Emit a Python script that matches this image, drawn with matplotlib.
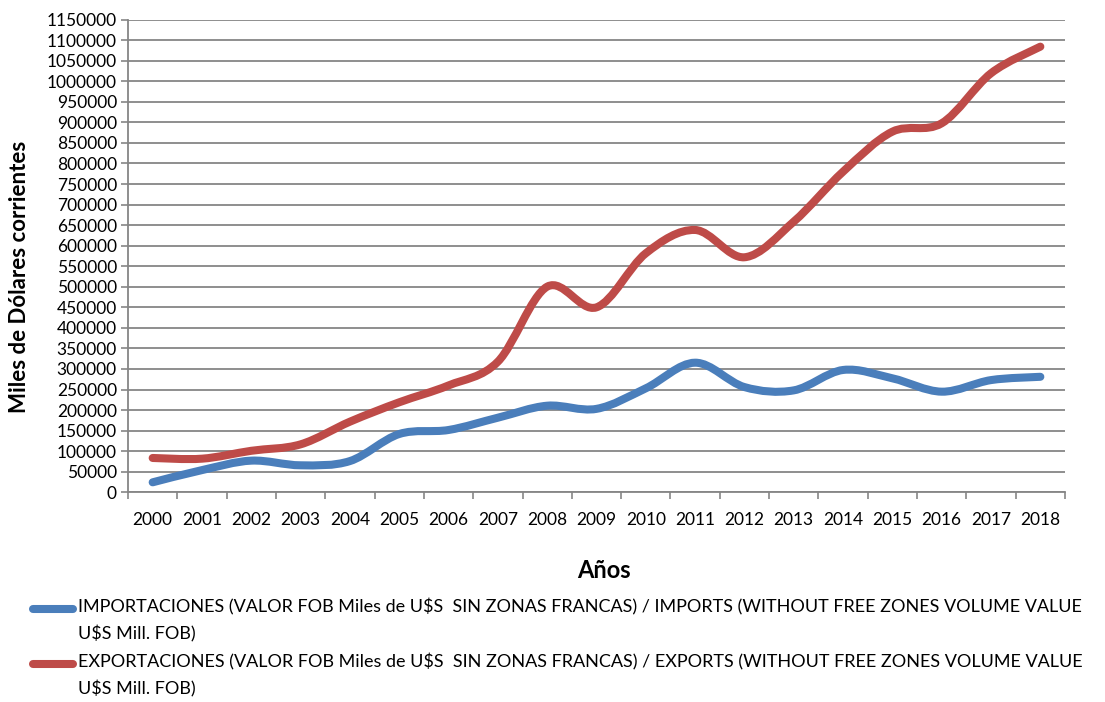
import matplotlib
matplotlib.use("Agg")
import matplotlib.pyplot as plt
import numpy as np
from matplotlib.path import Path
from matplotlib.patches import PathPatch
from matplotlib.lines import Line2D

years = [str(y) for y in range(2000, 2019)]
imports = [24300, 54000, 77000, 65700, 76000, 141800, 151600, 181500, 210700, 203000,
           253000, 315300, 256000, 248000, 297600, 277300, 244800, 273000, 281000]
exports = [83500, 81800, 101000, 116700, 171800, 219000, 260000, 317800, 500300, 450000,
           581500, 638200, 571800, 658500, 780100, 877400, 897800, 1019500, 1084200]
import_label = "IMPORTACIONES (VALOR FOB Miles de U$S  SIN ZONAS FRANCAS) / IMPORTS (WITHOUT FREE ZONES VOLUME VALUE\nU$S Mill. FOB)"
export_label = "EXPORTACIONES (VALOR FOB Miles de U$S  SIN ZONAS FRANCAS) / EXPORTS (WITHOUT FREE ZONES VOLUME VALUE\nU$S Mill. FOB)"

BLUE = "#4A7EBB"
RED = "#BE4B48"
GRID = "#868686"
FONT = "Lato"

plt.rcParams['font.family'] = [FONT, 'DejaVu Sans']

fig = plt.figure(figsize=(11.05, 7.02), dpi=100)
W, H = 1105, 702
ax = fig.add_axes([128 / W, 1 - 492.3 / H, (1065 - 128) / W, (492.3 - 19.6) / H])


def smooth_path(xs, ys):
    xs = np.asarray(xs, float)
    ys = np.asarray(ys, float)
    n = len(xs)
    verts = [(xs[0], ys[0])]
    codes = [Path.MOVETO]
    for i in range(n - 1):
        p0 = np.array([xs[max(i - 1, 0)], ys[max(i - 1, 0)]])
        p1 = np.array([xs[i], ys[i]])
        p2 = np.array([xs[i + 1], ys[i + 1]])
        p3 = np.array([xs[min(i + 2, n - 1)], ys[min(i + 2, n - 1)]])
        c1 = p1 + (p2 - p0) / 6.0
        c2 = p2 - (p3 - p1) / 6.0
        verts += [tuple(c1), tuple(c2), tuple(p2)]
        codes += [Path.CURVE4] * 3
    return Path(verts, codes)


xpos = np.arange(len(years))
for vals, col in [(imports, BLUE), (exports, RED)]:
    patch = PathPatch(smooth_path(xpos, vals), facecolor="none", edgecolor=col,
                      lw=5.8, capstyle="round", joinstyle="round", zorder=3)
    ax.add_patch(patch)

ax.set_xlim(-0.5, len(years) - 0.5)
ax.set_ylim(0, 1150000)
ax.set_yticks(np.arange(0, 1150001, 50000))
ax.set_yticklabels([str(v) for v in range(0, 1150001, 50000)], fontsize=12.5)
ax.set_xticks(xpos)
ax.set_xticklabels(years, fontsize=12.5)
ax.set_xticks(np.arange(-0.5, len(years), 1), minor=True)
ax.tick_params(axis="x", which="major", length=0, pad=14)
ax.tick_params(axis="x", which="minor", length=5, color=GRID, width=1.2)
ax.tick_params(axis="y", length=5, color=GRID, width=1.2, pad=3)
ax.yaxis.grid(True, color=GRID, lw=1.3)
ax.set_axisbelow(True)
for s in ["top", "right"]:
    ax.spines[s].set_visible(False)
for s in ["left", "bottom"]:
    ax.spines[s].set_color(GRID)
    ax.spines[s].set_linewidth(1.3)

fig.text(20 / W, 1 - 277 / H, "Miles de Dólares corrientes", rotation=90,
         ha="center", va="center", fontsize=16, fontweight="bold")
fig.text(604 / W, 1 - 570 / H, "Años", ha="center", va="center",
         fontsize=17, fontweight="bold")

# legend
for lab, col, y in [(import_label, BLUE, 609), (export_label, RED, 664)]:
    fig.add_artist(Line2D([33 / W, 73 / W], [1 - y / H, 1 - y / H], color=col, lw=5.8,
                          solid_capstyle="round", transform=fig.transFigure))
    fig.text(78 / W, 1 - (y - 11) / H, lab, ha="left", va="top", fontsize=13,
             linespacing=1.7)

fig.savefig("out.png", dpi=100)
